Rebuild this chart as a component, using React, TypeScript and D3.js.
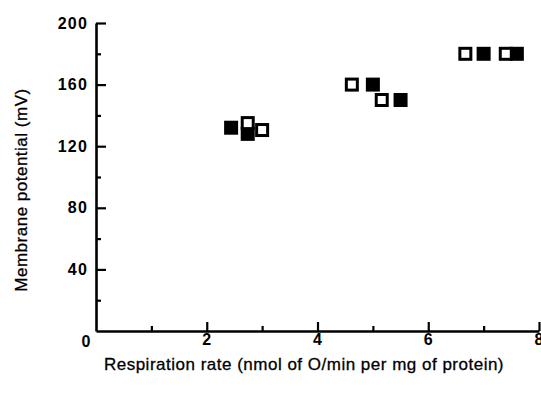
import { useRef, useEffect } from "react";
import * as d3 from "d3";

// respiration rate vs membrane potential, two groups of points
const filledRate = [2.44, 2.74, 5.0, 5.5, 7.0, 7.6];
const filledPotential = [132, 128, 160, 150, 180, 180];
const openRate = [2.74, 3.0, 4.62, 5.16, 6.67, 7.4];
const openPotential = [135, 130.5, 160, 150, 180, 180];

const xMajorTicks = [2, 4, 6, 8];
const xMinorTicks = [1, 3, 5, 7];
const yMajorTicks = [40, 80, 120, 160, 200];
const yMinorTicks = [20, 60, 100, 140, 180];

const xTitle = "Respiration rate (nmol of O/min per mg of protein)";
const yTitle = "Membrane potential (mV)";

export default function App() {
  const ref = useRef<SVGSVGElement>(null);

  useEffect(() => {
    if (!ref.current) return;
    const svg = d3.select(ref.current);
    svg.selectAll("*").remove();

    const width = 541;
    const height = 393;
    const margin = { top: 23, right: 2, bottom: 62, left: 96 };
    const font = "'Liberation Sans', Arial, sans-serif";

    const x = d3.scaleLinear().domain([0, 8]).range([margin.left, width - margin.right]);
    const y = d3.scaleLinear().domain([0, 200]).range([height - margin.bottom, margin.top]);

    const styleAxis = (g: d3.Selection<SVGGElement, unknown, null, undefined>) => {
      g.select(".domain").attr("stroke", "#000").attr("stroke-width", 2.6);
      g.selectAll(".tick line").attr("stroke", "#000").attr("stroke-width", 2.2);
      g.selectAll(".tick text")
        .attr("fill", "#000")
        .attr("font-family", font)
        .attr("font-weight", "bold")
        .attr("font-size", 16)
        .attr("letter-spacing", 1.2);
    };

    // x axis, ticks pointing inward
    const gx = svg.append("g").attr("transform", `translate(0, ${y(0)})`);
    gx.call(d3.axisBottom(x).tickValues(xMajorTicks).tickSizeInner(-9).tickSizeOuter(0).tickPadding(3).tickFormat(d3.format("d")));
    styleAxis(gx);
    const gxMinor = svg.append("g").attr("transform", `translate(0, ${y(0)})`);
    gxMinor.call(d3.axisBottom(x).tickValues(xMinorTicks).tickSize(-5).tickFormat(() => ""));
    gxMinor.select(".domain").remove();
    styleAxis(gxMinor);

    // y axis
    const gy = svg.append("g").attr("transform", `translate(${x(0)}, 0)`);
    gy.call(d3.axisLeft(y).tickValues(yMajorTicks).tickSizeInner(-10).tickSizeOuter(0).tickPadding(8).tickFormat(d3.format("d")));
    styleAxis(gy);
    const gyMinor = svg.append("g").attr("transform", `translate(${x(0)}, 0)`);
    gyMinor.call(d3.axisLeft(y).tickValues(yMinorTicks).tickSize(-5).tickFormat(() => ""));
    gyMinor.select(".domain").remove();
    styleAxis(gyMinor);

    // shared origin label
    svg.append("text")
      .attr("x", x(0) - 10)
      .attr("y", y(0) + 16)
      .attr("text-anchor", "middle")
      .attr("font-family", font)
      .attr("font-weight", "bold")
      .attr("font-size", 16)
      .text("0");

    // points: filled first, open squares on top
    const size = 14;
    svg.append("g")
      .selectAll("rect")
      .data(filledRate.map((r, i) => ({ r, p: filledPotential[i] })))
      .join("rect")
      .attr("x", d => x(d.r) - size / 2)
      .attr("y", d => y(d.p) - size / 2)
      .attr("width", size)
      .attr("height", size)
      .attr("fill", "#000");

    svg.append("g")
      .selectAll("rect")
      .data(openRate.map((r, i) => ({ r, p: openPotential[i] })))
      .join("rect")
      .attr("x", d => x(d.r) - (size - 3) / 2)
      .attr("y", d => y(d.p) - (size - 3) / 2)
      .attr("width", size - 3)
      .attr("height", size - 3)
      .attr("fill", "#fff")
      .attr("stroke", "#000")
      .attr("stroke-width", 3);

    // axis titles
    svg.append("text")
      .attr("x", 304)
      .attr("y", 370)
      .attr("text-anchor", "middle")
      .attr("font-family", font)
      .attr("font-size", 17)
      .attr("letter-spacing", 0.5)
      .attr("fill", "#000")
      .attr("stroke", "#000")
      .attr("stroke-width", 0.3)
      .text(xTitle);

    svg.append("text")
      .attr("transform", `translate(27, 190) rotate(-90)`)
      .attr("text-anchor", "middle")
      .attr("font-family", font)
      .attr("font-size", 17)
      .attr("letter-spacing", 0.5)
      .attr("fill", "#000")
      .attr("stroke", "#000")
      .attr("stroke-width", 0.3)
      .text(yTitle);
  }, []);

  return (
    <svg
      ref={ref}
      width={541}
      height={393}
      style={{ position: "absolute", left: 0, top: 0, background: "#fff" }}
    />
  );
}
